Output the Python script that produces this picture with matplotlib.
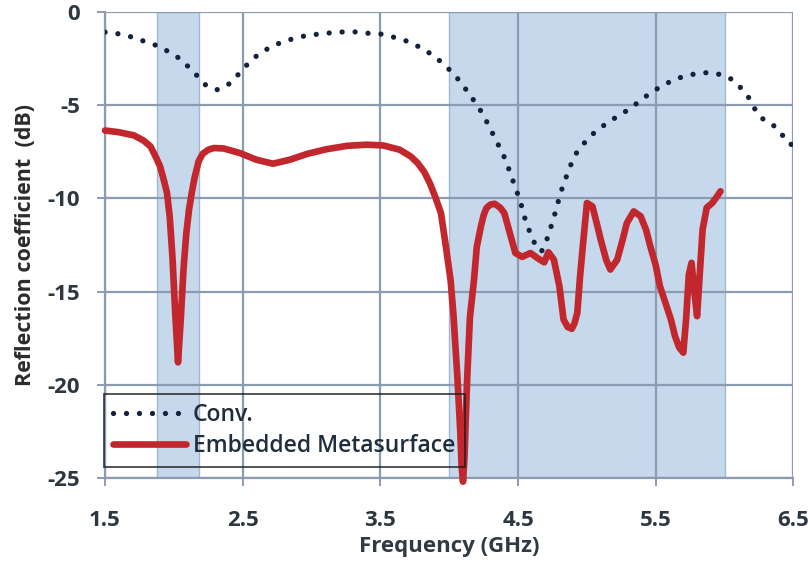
import matplotlib

matplotlib.use("Agg")
import matplotlib.pyplot as plt  # noqa: E402

plt.rcParams["font.family"] = ["Open Sans", "DejaVu Sans"]

# Conventional antenna, reflection coefficient (dB) vs frequency (GHz)
conv_f = [1.50, 1.56, 1.70, 1.81, 1.90, 2.05, 2.17, 2.23, 2.31, 2.39, 2.45,
          2.51, 2.57, 2.64, 2.72, 2.80, 2.89, 2.97, 3.06, 3.15, 3.23, 3.32,
          3.41, 3.50, 3.58, 3.67, 3.75, 3.83, 3.90, 3.97, 4.03, 4.09, 4.14,
          4.19, 4.24, 4.28, 4.32, 4.36, 4.40, 4.43, 4.46, 4.49, 4.52, 4.54,
          4.57, 4.60, 4.64, 4.67, 4.70, 4.73, 4.75, 4.78, 4.80, 4.83, 4.86,
          4.89, 4.93, 4.99, 5.05, 5.12, 5.19, 5.27, 5.34, 5.41, 5.49, 5.56,
          5.64, 5.72, 5.81, 5.89, 5.98, 6.06, 6.12, 6.18, 6.22, 6.27, 6.35,
          6.41, 6.46, 6.50]
conv_db = [-1.08, -1.11, -1.35, -1.64, -1.86, -2.53, -3.43, -3.91, -4.18,
           -3.93, -3.50, -3.00, -2.53, -2.14, -1.82, -1.57, -1.39, -1.25,
           -1.18, -1.11, -1.07, -1.07, -1.14, -1.18, -1.32, -1.50, -1.75,
           -2.07, -2.43, -2.86, -3.32, -3.82, -4.36, -4.86, -5.43, -6.00,
           -6.59, -7.18, -7.79, -8.37, -9.00, -9.62, -10.25, -10.87, -11.50,
           -12.12, -12.68, -12.85, -12.36, -11.82, -11.18, -10.57, -9.89,
           -9.25, -8.64, -8.07, -7.48, -6.95, -6.50, -6.10, -5.75, -5.39,
           -5.03, -4.62, -4.21, -3.91, -3.60, -3.43, -3.28, -3.25, -3.37,
           -3.64, -4.09, -4.64, -5.21, -5.70, -6.05, -6.50, -7.04, -7.15]

# Antenna with embedded metasurface
meta_f = [1.50, 1.60, 1.71, 1.78, 1.83, 1.87, 1.90, 1.93, 1.95, 1.97, 1.99,
          2.01, 2.03, 2.05, 2.07, 2.09, 2.11, 2.13, 2.15, 2.18, 2.21, 2.25,
          2.29, 2.36, 2.48, 2.60, 2.72, 2.84, 2.97, 3.11, 3.26, 3.40, 3.52,
          3.64, 3.72, 3.77, 3.82, 3.86, 3.90, 3.94, 3.97, 4.01, 4.03, 4.06,
          4.08, 4.09, 4.10, 4.11, 4.13, 4.15, 4.18, 4.20, 4.23, 4.25, 4.27,
          4.30, 4.33, 4.37, 4.40, 4.44, 4.48, 4.53, 4.59, 4.64, 4.69, 4.72,
          4.76, 4.80, 4.83, 4.86, 4.89, 4.91, 4.93, 4.95, 4.97, 5.00, 5.04,
          5.07, 5.10, 5.14, 5.17, 5.22, 5.26, 5.29, 5.34, 5.39, 5.43, 5.46,
          5.50, 5.53, 5.57, 5.61, 5.64, 5.67, 5.70, 5.72, 5.74, 5.76, 5.78,
          5.80, 5.82, 5.84, 5.87, 5.91, 5.94, 5.97]
meta_db = [-6.36, -6.45, -6.62, -6.90, -7.21, -7.80, -8.29, -9.10, -9.71,
           -11.00, -13.20, -16.20, -18.80, -16.50, -13.80, -11.90, -10.60,
           -9.70, -8.90, -8.00, -7.60, -7.39, -7.30, -7.32, -7.57, -7.93,
           -8.14, -7.93, -7.61, -7.36, -7.18, -7.12, -7.16, -7.39, -7.75,
           -8.10, -8.60, -9.20, -9.95, -10.80, -12.30, -14.40, -16.20,
           -19.70, -22.50, -24.40, -25.20, -24.00, -19.70, -16.40, -14.36,
           -12.60, -11.50, -10.90, -10.52, -10.33, -10.29, -10.50, -10.79,
           -11.86, -12.93, -13.14, -12.93, -13.20, -13.43, -12.89, -13.29,
           -14.71, -16.50, -16.90, -17.00, -16.70, -16.14, -14.20, -12.57,
           -10.25, -10.43, -11.30, -12.21, -13.30, -13.82, -13.29, -12.20,
           -11.32, -10.70, -10.96, -11.70, -12.57, -13.60, -14.71, -15.60,
           -16.50, -17.40, -18.00, -18.28, -16.50, -14.10, -13.46, -15.00,
           -16.32, -14.00, -11.68, -10.50, -10.25, -9.95, -9.62]

# Operating bands (GHz)
bands = [(1.88, 2.18), (4.0, 6.0)]

xticks = [1.5, 2.5, 3.5, 4.5, 5.5, 6.5]
yticks = [0, -5, -10, -15, -20, -25]

fig = plt.figure(figsize=(8.08, 5.71), dpi=100)
ax = fig.add_axes([0.130, 0.163, 0.852, 0.816])

for lo, hi in bands:
    ax.axvspan(lo, hi, facecolor="#c6d8eb", edgecolor="#9fb8d6",
               linewidth=1.0, zorder=0.3)

ax.plot(conv_f, conv_db, color="#15233a", linewidth=3.8,
        linestyle=(0, (0.01, 2.45)), dash_capstyle="round",
        label="Conv.", zorder=3)
ax.plot(meta_f, meta_db, color="#c1272d", linewidth=4.8,
        solid_joinstyle="round", solid_capstyle="round",
        label="Embedded Metasurface", zorder=4, clip_on=False)

ax.set_xlim(1.5, 6.5)
ax.set_ylim(-25, 0)
ax.set_xticks(xticks)
ax.set_yticks(yticks)
ax.set_xticklabels([f"{t:g}" for t in xticks])
ax.set_yticklabels([f"{t:g}" for t in yticks])

ax.set_axisbelow(True)
ax.grid(True, color="#8b9bb1", linewidth=1.6)
for side in ("top", "right"):
    ax.spines[side].set_visible(False)
for side in ("left", "bottom"):
    ax.spines[side].set_color("#8b9bb1")
    ax.spines[side].set_linewidth(1.6)
ax.tick_params(axis="both", colors="#8b9bb1", length=6, width=1.4,
               labelcolor="#2e3640", labelsize=16)
ax.tick_params(axis="x", pad=17)
ax.tick_params(axis="y", pad=12)
for lab in ax.get_xticklabels() + ax.get_yticklabels():
    lab.set_fontweight("bold")

ax.set_xlabel("Frequency (GHz)", fontsize=16, fontweight="bold",
              color="#2f3a45", labelpad=4)
ax.set_ylabel("Reflection coefficient  (dB)", fontsize=15.5,
              fontweight="bold", color="#2b2b2b", labelpad=8)

leg = ax.legend(loc="lower left", bbox_to_anchor=(-0.002, 0.024),
                fontsize=16.5, handlelength=3.2, handletextpad=0.3,
                borderpad=0.4, labelspacing=0.3, fancybox=False,
                facecolor="none", framealpha=None, edgecolor="#1a1a1a",
                borderaxespad=0)
leg.get_frame().set_linewidth(1.3)
for txt in leg.get_texts():
    txt.set_color("#1f2d3d")
    txt.set_fontweight("semibold")

fig.savefig("out.png", dpi=100)
